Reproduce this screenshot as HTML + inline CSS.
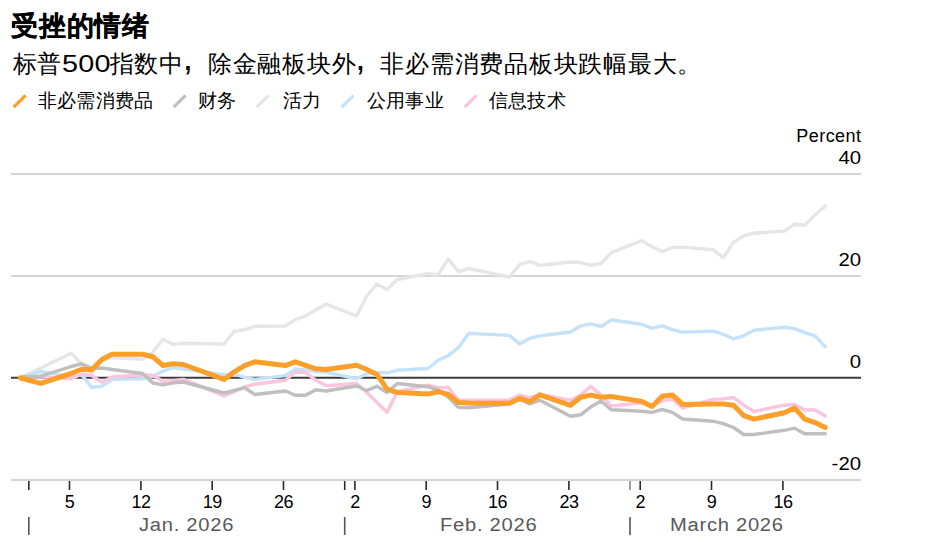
<!DOCTYPE html>
<html><head><meta charset="utf-8"><style>
html,body{margin:0;padding:0;background:#fff;width:930px;height:547px;overflow:hidden;position:relative}
body{font-family:"Liberation Sans",sans-serif;color:#000}
.t{position:absolute;white-space:nowrap;line-height:1}
.title{left:11px;top:12.5px;font-size:27px;letter-spacing:0.8px;font-weight:bold;-webkit-text-stroke:0.2px #000}
.sub{left:12.5px;top:51.5px;font-size:24px;letter-spacing:0.75px}
.dg{display:inline-block;width:47.5px;letter-spacing:0}
.dg b{display:inline-block;font-weight:normal;transform:scaleX(1.2);transform-origin:0 0;letter-spacing:0.2px}
.cm{display:inline-block;width:1em;position:relative}
.cm i{font-style:normal;position:absolute;left:-1px;top:-12.7px;font-size:37px}
.leg{top:91px;font-size:19px;letter-spacing:0.2px}
.yl{font-size:18px;text-align:right;right:69px}
.yd{right:68.7px;transform:scaleX(1.13);transform-origin:100% 0}
.xl{font-size:18px;top:493px;width:40px;margin-left:-20px;text-align:center;letter-spacing:-0.5px}
.ml{font-size:18px;top:516px;color:#595959;letter-spacing:0.65px;transform:scaleX(1.12);transform-origin:0 0}
</style></head><body>
<svg width="930" height="547" viewBox="0 0 930 547" style="position:absolute;left:0;top:0">
<line x1="11" y1="174" x2="861" y2="174" stroke="#d4d4d4" stroke-width="2"/>
<line x1="11" y1="276" x2="861" y2="276" stroke="#d4d4d4" stroke-width="2"/>
<line x1="11" y1="480" x2="861" y2="480" stroke="#d4d4d4" stroke-width="2"/>
<line x1="11" y1="377.8" x2="861" y2="377.8" stroke="#3c3c3c" stroke-width="2"/>
<line x1="28.8" y1="481" x2="28.8" y2="490" stroke="#2a2a2a" stroke-width="1.6"/>
<line x1="344.7" y1="481" x2="344.7" y2="490" stroke="#2a2a2a" stroke-width="1.6"/>
<line x1="630.0" y1="481" x2="630.0" y2="490" stroke="#8a8a8a" stroke-width="1.6"/>
<line x1="69.5" y1="481" x2="69.5" y2="490" stroke="#2a2a2a" stroke-width="1.6"/>
<line x1="140.9" y1="481" x2="140.9" y2="490" stroke="#2a2a2a" stroke-width="1.6"/>
<line x1="212.2" y1="481" x2="212.2" y2="490" stroke="#2a2a2a" stroke-width="1.6"/>
<line x1="283.5" y1="481" x2="283.5" y2="490" stroke="#2a2a2a" stroke-width="1.6"/>
<line x1="354.9" y1="481" x2="354.9" y2="490" stroke="#2a2a2a" stroke-width="1.6"/>
<line x1="426.2" y1="481" x2="426.2" y2="490" stroke="#2a2a2a" stroke-width="1.6"/>
<line x1="497.5" y1="481" x2="497.5" y2="490" stroke="#2a2a2a" stroke-width="1.6"/>
<line x1="568.9" y1="481" x2="568.9" y2="490" stroke="#2a2a2a" stroke-width="1.6"/>
<line x1="640.2" y1="481" x2="640.2" y2="490" stroke="#2a2a2a" stroke-width="1.6"/>
<line x1="711.5" y1="481" x2="711.5" y2="490" stroke="#2a2a2a" stroke-width="1.6"/>
<line x1="782.9" y1="481" x2="782.9" y2="490" stroke="#2a2a2a" stroke-width="1.6"/>
<line x1="28.8" y1="517" x2="28.8" y2="535" stroke="#555" stroke-width="1.6"/>
<line x1="344.7" y1="517" x2="344.7" y2="535" stroke="#555" stroke-width="1.6"/>
<line x1="630.0" y1="517" x2="630.0" y2="535" stroke="#555" stroke-width="1.6"/>
<polyline points="20.4,378.0 40.8,368.0 71.3,353.2 81.5,364.0 91.7,373.5 101.9,360.0 112.1,357.5 142.6,359.2 152.8,352.4 163.0,339.3 173.2,344.4 183.4,343.2 224.1,344.0 234.3,331.2 244.5,329.8 254.7,326.3 285.3,326.1 295.4,319.5 305.6,315.9 315.8,310.0 326.0,304.1 356.6,315.9 366.8,296.0 376.9,283.9 387.1,289.8 397.3,279.5 427.9,273.7 438.1,274.8 448.3,259.0 458.4,271.5 468.6,268.5 509.4,277.1 519.6,264.6 529.8,261.3 539.9,265.4 570.5,262.0 580.7,262.5 590.9,265.3 601.1,263.7 611.2,252.7 641.8,240.7 652.0,246.8 662.2,251.5 672.4,247.6 682.6,247.1 713.1,249.7 723.3,257.7 733.5,242.4 743.7,236.0 753.9,233.2 784.4,231.1 794.6,224.2 804.8,225.2 815.0,215.0 825.2,206.1" stroke="#e6e6e6" stroke-width="3.4" fill="none" stroke-linejoin="round" stroke-linecap="round"/>
<polyline points="20.4,377.5 40.8,371.5 71.3,377.0 81.5,374.6 91.7,387.5 101.9,386.2 112.1,379.4 142.6,378.8 152.8,376.3 163.0,371.2 173.2,367.7 183.4,369.0 224.1,374.6 234.3,374.0 244.5,377.3 254.7,379.4 285.3,375.6 295.4,369.0 305.6,369.9 315.8,371.5 326.0,372.0 356.6,378.8 366.8,373.6 376.9,372.8 387.1,372.8 397.3,370.3 427.9,368.5 438.1,360.2 448.3,355.6 458.4,347.6 468.6,333.4 509.4,335.4 519.6,343.9 529.8,338.3 539.9,335.9 570.5,332.0 580.7,325.8 590.9,323.9 601.1,326.5 611.2,320.0 641.8,324.3 652.0,328.2 662.2,325.9 672.4,329.6 682.6,332.1 713.1,331.1 723.3,334.3 733.5,338.8 743.7,335.8 753.9,330.2 784.4,327.2 794.6,328.6 804.8,332.7 815.0,335.8 825.2,346.6" stroke="#c4e3fa" stroke-width="3.4" fill="none" stroke-linejoin="round" stroke-linecap="round"/>
<polyline points="20.4,378.0 40.8,376.8 71.3,378.8 81.5,374.3 91.7,375.5 101.9,382.2 112.1,377.0 142.6,375.0 152.8,375.3 163.0,381.4 173.2,380.8 183.4,379.4 224.1,395.8 234.3,391.7 244.5,387.0 254.7,384.2 285.3,380.3 295.4,372.0 305.6,372.3 315.8,380.3 326.0,385.8 356.6,383.5 366.8,392.5 376.9,402.4 387.1,412.2 397.3,391.7 427.9,385.1 438.1,387.6 448.3,387.5 458.4,400.0 468.6,400.3 509.4,400.0 519.6,395.1 529.8,397.6 539.9,394.5 570.5,400.2 580.7,395.1 590.9,386.3 601.1,395.1 611.2,406.0 641.8,402.9 652.0,405.8 662.2,400.7 672.4,399.2 682.6,408.0 713.1,399.4 723.3,398.9 733.5,397.5 743.7,405.2 753.9,411.5 784.4,405.2 794.6,404.5 804.8,410.0 815.0,410.0 825.2,416.0" stroke="#f9c5df" stroke-width="3.4" fill="none" stroke-linejoin="round" stroke-linecap="round"/>
<polyline points="20.4,377.0 40.8,376.2 71.3,366.5 81.5,363.8 91.7,368.3 101.9,368.0 112.1,369.5 142.6,373.5 152.8,383.0 163.0,384.9 173.2,382.8 183.4,382.0 224.1,393.0 234.3,390.4 244.5,387.6 254.7,394.5 285.3,391.0 295.4,395.2 305.6,395.2 315.8,389.7 326.0,391.0 356.6,386.0 366.8,390.5 376.9,386.2 387.1,392.5 397.3,383.5 427.9,386.7 438.1,390.0 448.3,397.0 458.4,407.4 468.6,407.8 509.4,404.0 519.6,399.0 529.8,404.0 539.9,400.2 570.5,416.3 580.7,414.8 590.9,406.8 601.1,401.0 611.2,409.7 641.8,411.2 652.0,412.4 662.2,409.5 672.4,412.4 682.6,419.0 713.1,421.2 723.3,423.6 733.5,427.5 743.7,434.5 753.9,434.5 784.4,430.3 794.6,428.2 804.8,433.8 815.0,433.8 825.2,433.8" stroke="#bfbfbf" stroke-width="3.4" fill="none" stroke-linejoin="round" stroke-linecap="round"/>
<polyline points="20.4,378.0 40.8,383.4 71.3,373.5 81.5,369.3 91.7,369.7 101.9,359.5 112.1,354.2 142.6,354.3 152.8,356.7 163.0,365.5 173.2,363.8 183.4,364.5 224.1,379.4 234.3,371.8 244.5,365.7 254.7,361.8 285.3,365.6 295.4,361.8 305.6,365.3 315.8,368.8 326.0,369.4 356.6,365.2 366.8,369.5 376.9,374.4 387.1,389.2 397.3,392.5 427.9,394.1 438.1,391.7 448.3,394.5 458.4,402.5 468.6,403.0 509.4,403.3 519.6,398.4 529.8,401.7 539.9,394.8 570.5,405.3 580.7,397.3 590.9,395.1 601.1,397.3 611.2,396.5 641.8,401.4 652.0,406.5 662.2,396.3 672.4,394.9 682.6,404.4 713.1,403.9 723.3,404.0 733.5,405.2 743.7,415.6 753.9,419.1 784.4,412.8 794.6,408.0 804.8,419.1 815.0,422.6 825.2,427.5" stroke="#fc9f2a" stroke-width="5" fill="none" stroke-linejoin="round" stroke-linecap="round"/>
<line x1="13.7" y1="107.2" x2="25.6" y2="95.3" stroke="#fc9f2a" stroke-width="3.2"/>
<line x1="173.7" y1="107.2" x2="185.6" y2="95.3" stroke="#bfbfbf" stroke-width="3.2"/>
<line x1="256.7" y1="107.2" x2="268.6" y2="95.3" stroke="#e6e6e6" stroke-width="3.2"/>
<line x1="341.7" y1="107.2" x2="353.6" y2="95.3" stroke="#c4e3fa" stroke-width="3.2"/>
<line x1="464.7" y1="107.2" x2="476.6" y2="95.3" stroke="#f9c5df" stroke-width="3.2"/>
</svg>
<div class="t title">受挫的情绪</div>
<div class="t sub">标普<span class="dg"><b>500</b></span>指数中<span class="cm">&#8203;<i>,</i></span>除金融板块外<span class="cm">&#8203;<i>,</i></span>非必需消费品板块跌幅最大。</div>
<div class="t leg" style="left:38px">非必需消费品</div>
<div class="t leg" style="left:198px">财务</div>
<div class="t leg" style="left:283px">活力</div>
<div class="t leg" style="left:367px">公用事业</div>
<div class="t leg" style="left:489px">信息技术</div>
<div class="t yl" style="top:126.5px;letter-spacing:0.45px;right:68.5px">Percent</div>
<div class="t yl yd" style="top:149px">40</div>
<div class="t yl yd" style="top:251px">20</div>
<div class="t yl yd" style="top:353px">0</div>
<div class="t yl yd" style="top:455px">-20</div>
<div class="t xl" style="left:69.5px">5</div>
<div class="t xl" style="left:140.9px">12</div>
<div class="t xl" style="left:212.2px">19</div>
<div class="t xl" style="left:283.5px">26</div>
<div class="t xl" style="left:354.9px">2</div>
<div class="t xl" style="left:426.2px">9</div>
<div class="t xl" style="left:497.5px">16</div>
<div class="t xl" style="left:568.9px">23</div>
<div class="t xl" style="left:640.2px">2</div>
<div class="t xl" style="left:711.5px">9</div>
<div class="t xl" style="left:782.9px">16</div>
<div class="t ml" style="left:139px">Jan. 2026</div>
<div class="t ml" style="left:440px">Feb. 2026</div>
<div class="t ml" style="left:670px">March 2026</div>
</body></html>
